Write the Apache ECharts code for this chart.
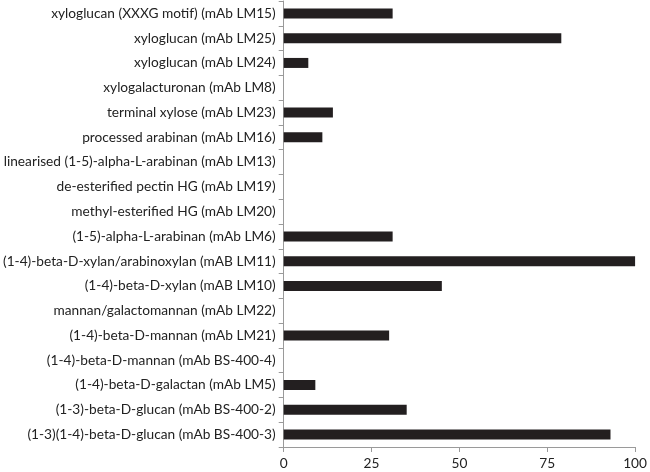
<!DOCTYPE html>
<html>
<head>
<meta charset="utf-8">
<script src="https://cdn.jsdelivr.net/npm/echarts@6/dist/echarts.min.js"></script>
<style>
html,body{margin:0;padding:0;background:#fff;}
#chart{width:650px;height:472px;}
</style>
</head>
<body>
<div id="chart"></div>
<script>
// Categories listed top to bottom as shown in the chart
var categories = [
  "xyloglucan (XXXG motif) (mAb LM15)",
  "xyloglucan (mAb LM25)",
  "xyloglucan (mAb LM24)",
  "xylogalacturonan (mAb LM8)",
  "terminal xylose (mAb LM23)",
  "processed arabinan (mAb LM16)",
  "linearised (1-5)-alpha-L-arabinan (mAb LM13)",
  "de-esterified pectin HG (mAb LM19)",
  "methyl-esterified HG (mAb LM20)",
  "(1-5)-alpha-L-arabinan (mAb LM6)",
  "(1-4)-beta-D-xylan/arabinoxylan (mAB LM11)",
  "(1-4)-beta-D-xylan (mAB LM10)",
  "mannan/galactomannan (mAb LM22)",
  "(1-4)-beta-D-mannan (mAb LM21)",
  "(1-4)-beta-D-mannan (mAb BS-400-4)",
  "(1-4)-beta-D-galactan (mAb LM5)",
  "(1-3)-beta-D-glucan (mAb BS-400-2)",
  "(1-3)(1-4)-beta-D-glucan (mAb BS-400-3)"
];
var values = [31, 79, 7, 0, 14, 11, 0, 0, 0, 31, 100, 45, 0, 30, 0, 9, 35, 93];
var xTicks = [0, 25, 50, 75, 100];

var chart = echarts.init(document.getElementById('chart'), null, {renderer: 'canvas'});
var font = 'Lato, "Open Sans", sans-serif';
chart.setOption({
  animation: false,
  grid: {left: 283, right: 11, top: 1, bottom: 25, containLabel: false},
  xAxis: {
    type: 'value',
    min: xTicks[0],
    max: xTicks[xTicks.length - 1],
    interval: xTicks[1] - xTicks[0],
    axisLine: {show: true, lineStyle: {color: '#9a9a9a', width: 1}},
    axisTick: {show: true, length: 5, lineStyle: {color: '#9a9a9a'}},
    splitLine: {show: false},
    axisLabel: {color: '#222', fontSize: 13.7, fontFamily: font, margin: 10}
  },
  yAxis: {
    type: 'category',
    data: categories,
    inverse: true,
    axisLine: {show: true, lineStyle: {color: '#9a9a9a', width: 1}},
    axisTick: {show: true, length: 5, lineStyle: {color: '#9a9a9a'}},
    axisLabel: {color: '#222', fontSize: 13.7, fontFamily: font, margin: 8, interval: 0}
  },
  series: [{
    type: 'bar',
    data: values,
    barWidth: 10,
    itemStyle: {color: '#231f20'}
  }]
});
</script>
</body>
</html>
